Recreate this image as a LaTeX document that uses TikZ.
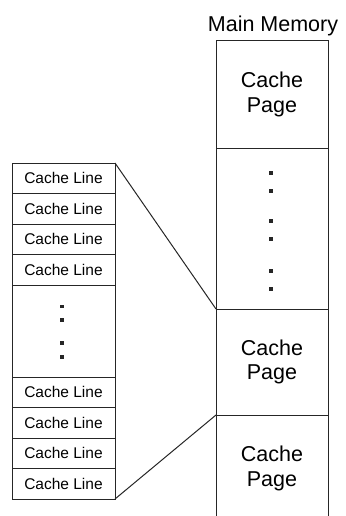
\documentclass[tikz,border=0pt]{standalone}
\usepackage{fontspec}
\setmainfont{Liberation Sans}
\begin{document}
\begin{tikzpicture}[x=1pt,y=-1pt,line width=1pt,
  pagebox/.style={draw=black!85,inner sep=0pt,outer sep=0pt,minimum width=112pt,align=center,
    font=\fontsize{21.5}{24.5}\selectfont},
  pagetext/.style={inner sep=0pt,outer sep=0pt,minimum width=112pt,align=center,
    font=\fontsize{21.5}{24.5}\selectfont},
  linebox/.style={draw=black!85,inner sep=0pt,outer sep=0pt,minimum width=103pt,minimum height=30.5pt,
    font=\fontsize{15.5}{17}\selectfont},
  sq/.style={fill=black!85,inner sep=0pt,outer sep=0pt,minimum size=3.3pt},
  conn/.style={draw=black!85,line width=1pt}]
\useasboundingbox (0,0) rectangle (345,516);
% main memory
\node[font=\fontsize{21.5}{24}\selectfont,inner sep=0pt] (mm) at (273,26) {Main Memory};
\node[pagebox,minimum height=107pt] (p1) at (272,94.5) {Cache\\Page};
\node[pagebox,minimum height=161pt] (p2) at (272,228.5) {};
\node[pagebox,minimum height=106pt] (p3) at (272,362) {Cache\\Page};
\node[pagetext,minimum height=107pt] (p4) at (272,468.5) {Cache\\Page};
\coordinate (m1) at (216,516);
\coordinate (m2) at (328,516);
\draw[conn] (p3.south west) -- (m1);
\draw[conn] (p3.south east) -- (m2);
\node[sq] (md1) at (271,173) {};
\node[sq] (md2) at (271,191) {};
\node[sq] (md3) at (271,221) {};
\node[sq] (md4) at (271,239) {};
\node[sq] (md5) at (271,271) {};
\node[sq] (md6) at (271,289) {};
% cache lines
\node[linebox] (l1) at (63.5,178.25) {Cache Line};
\node[linebox] (l2) at (63.5,208.75) {Cache Line};
\node[linebox] (l3) at (63.5,239.25) {Cache Line};
\node[linebox] (l4) at (63.5,269.75) {Cache Line};
\node[linebox,minimum height=92pt] (ld) at (63.5,331) {};
\node[linebox] (l5) at (63.5,392.25) {Cache Line};
\node[linebox] (l6) at (63.5,422.75) {Cache Line};
\node[linebox] (l7) at (63.5,453.25) {Cache Line};
\node[linebox] (l8) at (63.5,483.75) {Cache Line};
\node[sq] (ld1) at (62,306.5) {};
\node[sq] (ld2) at (62,320) {};
\node[sq] (ld3) at (62,343) {};
\node[sq] (ld4) at (62,357) {};
% connectors
\draw[conn] (l1.north east) -- (p3.north west);
\draw[conn] (l8.south east) -- (p3.south west);
\end{tikzpicture}
\end{document}
